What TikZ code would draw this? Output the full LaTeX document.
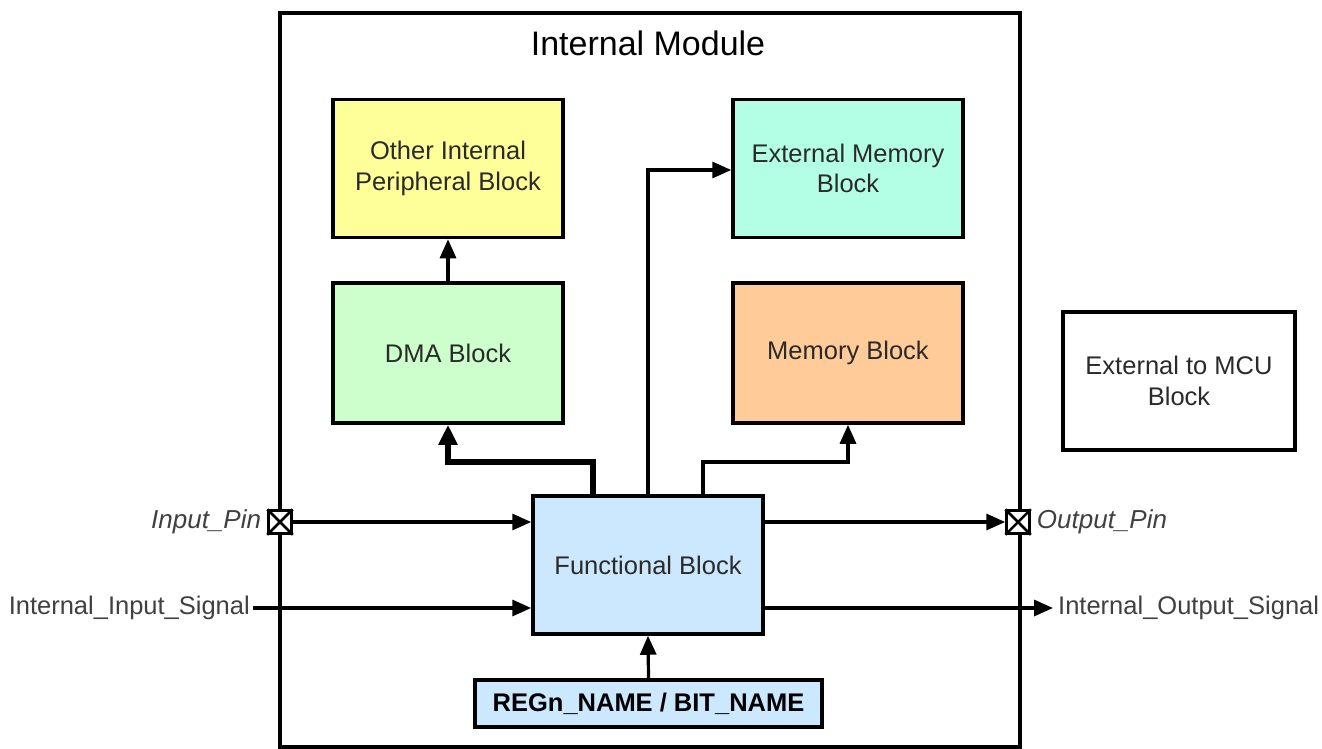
\documentclass[tikz,border=0pt]{standalone}
\usepackage{fontspec}
\setmainfont{Liberation Sans}
\usetikzlibrary{arrows.meta}
\definecolor{cyellow}{HTML}{FFFF99}
\definecolor{ccyan}{HTML}{B3FFE6}
\definecolor{cgreen}{HTML}{CCFFCC}
\definecolor{corange}{HTML}{FFCC99}
\definecolor{cblue}{HTML}{CCE8FF}
\definecolor{ctext}{HTML}{2A2A2A}
\definecolor{clabel}{HTML}{404040}
\tikzset{
  blk/.style={draw=black, line width=3.5pt, minimum width=230pt, minimum height=138pt,
    align=center, text=ctext, font=\fontsize{25.5}{30.5}\selectfont, inner sep=0pt},
  pinbox/.style={draw=black, fill=white, line width=2.5pt, minimum size=23pt, inner sep=0pt},
  lbl/.style={text=clabel, font=\fontsize{25.5}{30}\selectfont, inner sep=3pt},
  ilbl/.style={text=clabel, font=\itshape\fontsize{26}{30}\selectfont, inner sep=6pt},
  conn/.style={line width=3.2pt, -{Triangle[length=19pt,width=16pt]}},
  thickconn/.style={line width=5.5pt, -{Triangle[length=20pt,width=18pt]}}
}
\begin{document}
\begin{tikzpicture}[x=1pt,y=-1pt]
\useasboundingbox (0,0) rectangle (1322,749);
% module frame
\draw[line width=3.5pt] (280,13) rectangle (1020,747);
\node[font=\fontsize{34}{38}\selectfont, text=black, inner sep=0pt] (title) at (648,43) {Internal Module};
% blocks
\node[blk, fill=cyellow] (other) at (448,168.5) {Other Internal\\Peripheral Block};
\node[blk, fill=ccyan] (extmem) at (848,168.5) {External Memory\\Block};
\node[blk, fill=cgreen, minimum height=140pt] (dma) at (448,353) {DMA Block};
\node[blk, fill=corange, minimum height=140pt] (mem) at (848,353) {Memory Block};
\node[blk, fill=white, minimum width=232pt] (extmcu) at (1179,381) {External to MCU\\Block};
\node[blk, fill=cblue] (func) at (648,565) {Functional Block};
\node[blk, fill=cblue, minimum width=347pt, minimum height=47pt, font=\bfseries\fontsize{25.5}{30}\selectfont, text=black] (reg) at (648.5,703.5) {REGn\_NAME / BIT\_NAME};
% pins
\node[pinbox] (inpin) at (280,522) {};
\draw[line width=2.5pt] (inpin.north west) -- (inpin.south east) (inpin.north east) -- (inpin.south west);
\node[pinbox] (outpin) at (1018,522) {};
\draw[line width=2.5pt] (outpin.north west) -- (outpin.south east) (outpin.north east) -- (outpin.south west);
% labels
\node[ilbl, anchor=east] (inlbl) at (inpin.west) {Input\_Pin};
\node[ilbl, anchor=west] (outlbl) at (outpin.east) {Output\_Pin};
\node[lbl, anchor=east] (insig) at (253,608) {Internal\_Input\_Signal};
\coordinate (outend) at (1053,608);
\node[lbl, anchor=west] (outsig) at (1055,608) {Internal\_Output\_Signal};
% connectors
\draw[conn] (dma.north) -- (other.south);
\draw[thickconn] (func.north -| 593,0) -- (593,462) -- (448,462) -- (dma.south);
\draw[conn] (func.north) -- (648,170) -- (extmem.west |- 648,170);
\draw[conn] (func.north -| 703,0) -- (703,462) -- (848,462) -- (mem.south);
\draw[conn] (inpin.east) -- (func.west |- inpin.east);
\draw[conn] (insig.east) -- (func.west |- insig.east);
\draw[conn] (func.east |- outpin.west) -- (outpin.west);
\draw[conn] (func.east |- outend) -- (outend);
\draw[conn] (reg.north) -- (func.south);
\end{tikzpicture}
\end{document}
